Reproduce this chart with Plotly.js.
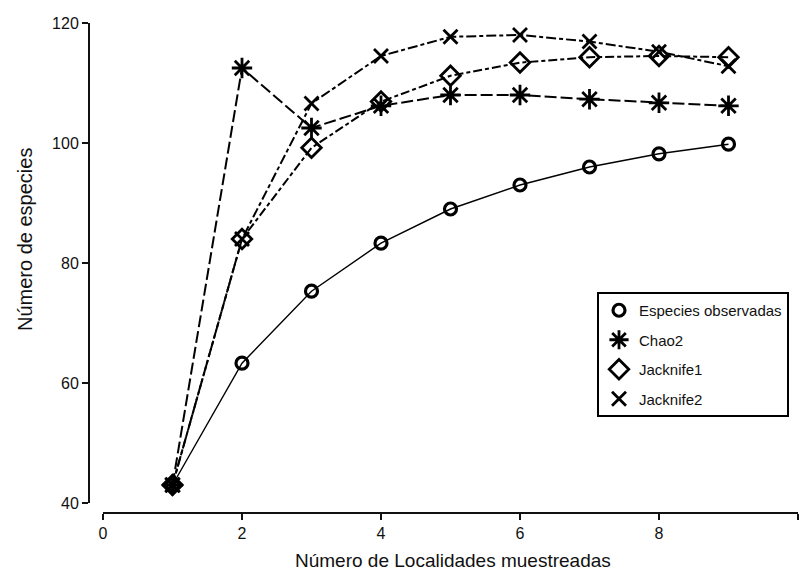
<!DOCTYPE html>
<html>
<head>
<meta charset="utf-8">
<script src="https://cdn.plot.ly/plotly-3.0.1.min.js"></script>
<style>html,body{margin:0;padding:0;background:#fff;}#chart{width:804px;height:571px;}</style>
</head>
<body>
<div id="chart"></div>
<script>
// Data
const localidades = [1, 2, 3, 4, 5, 6, 7, 8, 9];
const especiesObservadas = [43, 63.3, 75.3, 83.3, 89, 93, 96, 98.2, 99.8];
const chao2 = [43, 112.5, 102.5, 106.2, 108, 108, 107.3, 106.7, 106.2];
const jacknife1 = [43, 84, 99.2, 106.9, 111.2, 113.4, 114.3, 114.5, 114.3];
const jacknife2 = [43, 84, 106.6, 114.5, 117.7, 118, 116.9, 115.2, 112.8];
const seriesNames = ["Especies observadas", "Chao2", "Jacknife1", "Jacknife2"];
const xTicks = [0, 2, 4, 6, 8, 10];
const yTicks = [40, 60, 80, 100, 120];
const xTitle = "Número de Localidades muestreadas";
const yTitle = "Número de especies";

const seriesValues = [especiesObservadas, chao2, jacknife1, jacknife2];
const styles = [
  {dash: "solid", width: 1.4, symbol: "circle-open", size: 12, mw: 3.2},
  {dash: "12px,4px", width: 2, symbol: "asterisk-open", size: 17, mw: 2.8},
  {dash: "9px,3px,4px,3px", width: 2, symbol: "diamond-open", size: 15, mw: 2.8},
  {dash: "10px,3px,4px,3px", width: 2, symbol: "x-thin-open", size: 14, mw: 2.8}
];

const traces = [];
seriesValues.forEach((vals, i) => {
  const s = styles[i];
  traces.push({
    x: localidades, y: vals, type: "scatter", mode: "lines",
    line: {color: "#000", width: s.width, dash: s.dash},
    showlegend: false, legendgroup: "g" + i, hoverinfo: "skip", cliponaxis: false
  });
});
seriesValues.forEach((vals, i) => {
  const s = styles[i];
  traces.push({
    x: localidades, y: vals, type: "scatter", mode: "markers",
    name: seriesNames[i], legendgroup: "g" + i,
    marker: {symbol: s.symbol, size: s.size, color: "#000", line: {color: "#000", width: s.mw}},
    cliponaxis: false
  });
});

const axisFont = {family: "Liberation Sans, Arial, sans-serif", size: 16, color: "#111"};
const layout = {
  width: 804, height: 571,
  margin: {l: 88, r: 6, t: 23, b: 59},
  paper_bgcolor: "#fff", plot_bgcolor: "#fff",
  showlegend: true,
  xaxis: {
    domain: [15/710, 1], range: [0, 10], anchor: "free", position: 0,
    tickvals: xTicks, ticktext: xTicks.map(String),
    showgrid: false, zeroline: false, showline: true, linecolor: "#111", linewidth: 1.5,
    ticks: "outside", ticklen: 6, tickwidth: 1.5, tickcolor: "#111",
    tickfont: axisFont, automargin: false
  },
  yaxis: {
    domain: [9/489, 1], range: [40, 120], anchor: "free", position: 0,
    tickvals: yTicks, ticktext: yTicks.map(String),
    showgrid: false, zeroline: false, showline: true, linecolor: "#111", linewidth: 1.5,
    ticks: "outside", ticklen: 6, tickwidth: 1.5, tickcolor: "#111",
    tickfont: axisFont, automargin: false
  },
  legend: {
    x: (597 - 88) / 710, y: (512 - 292) / 489, xanchor: "left", yanchor: "top",
    bordercolor: "#000", borderwidth: 2, bgcolor: "#fff",
    font: {family: "Liberation Sans, Arial, sans-serif", size: 15, color: "#111"},
    tracegroupgap: 7, traceorder: "grouped"
  },
  annotations: [
    {text: yTitle, xref: "paper", yref: "paper", x: (25 - 88) / 710, y: (512 - 240) / 489,
     xanchor: "center", yanchor: "middle", textangle: -90, showarrow: false,
     font: {family: "Liberation Sans, Arial, sans-serif", size: 20, color: "#111"}},
    {text: xTitle, xref: "paper", yref: "paper", x: (453 - 88) / 710, y: (512 - 560) / 489,
     xanchor: "center", yanchor: "middle", showarrow: false,
     font: {family: "Liberation Sans, Arial, sans-serif", size: 19, color: "#111"}}
  ]
};

Plotly.newPlot("chart", traces, layout, {displayModeBar: false, staticPlot: true});
</script>
</body>
</html>
